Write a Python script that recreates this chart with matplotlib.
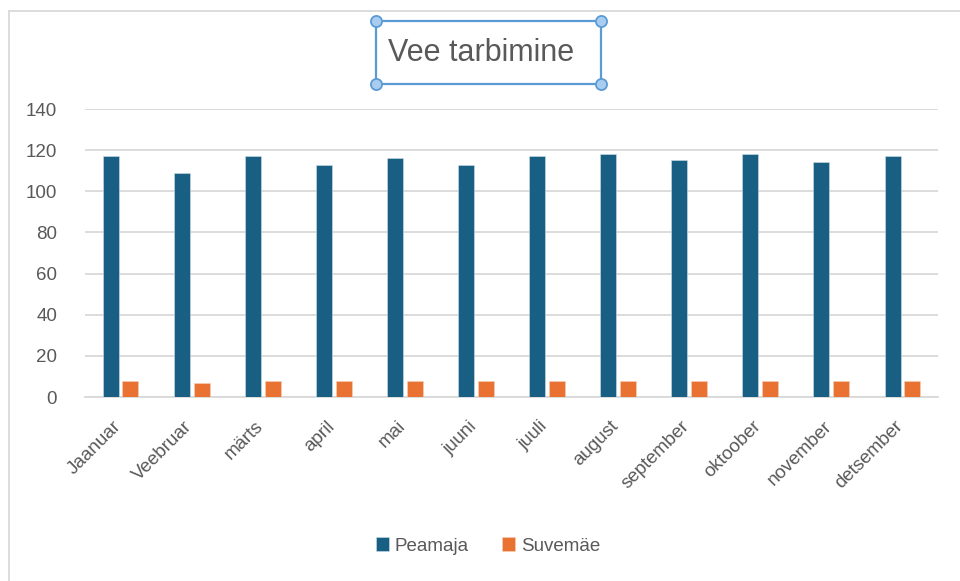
import matplotlib
matplotlib.use("Agg")
import matplotlib.pyplot as plt
import numpy as np
from matplotlib.lines import Line2D
from matplotlib.patches import Rectangle
from matplotlib.transforms import ScaledTranslation

months = ["Jaanuar", "Veebruar", "märts", "april", "mai", "juuni", "juuli",
          "august", "september", "oktoober", "november", "detsember"]
peamaja = [117, 109, 117, 113, 116, 113, 117, 118, 115, 118, 114, 117]
suvemae = [8, 7, 8, 8, 8, 8, 8, 8, 8, 8, 8, 8]
series_names = ["Peamaja", "Suvemäe"]
title = "Vee tarbimine"
yticks = [0, 20, 40, 60, 80, 100, 120, 140]

plt.rcParams['font.family'] = ['Liberation Sans', 'DejaVu Sans']
W, H = 960, 581
fig = plt.figure(figsize=(W / 100, H / 100), dpi=100)
ax = fig.add_axes([85 / W, 1 - 397 / H, (938 - 85) / W, (397 - 109) / H])

txt = '#595959'
grid = '#d9d9d9'
blue = '#195E83'
orange = '#E97132'
fs = 13.5

x = np.arange(len(months))
bw = 0.225
off = 0.14
ax.bar(x - off, peamaja, bw, color=blue, edgecolor='#cfe0ea', linewidth=0.4, label=series_names[0], zorder=3)
ax.bar(x + off, suvemae, bw, color=orange, edgecolor='#f5d0bb', linewidth=0.4, label=series_names[1], zorder=3)

ax.set_xlim(-0.5, len(months) - 0.5)
ax.set_ylim(0, 140)
ax.set_yticks(yticks)
ax.yaxis.grid(True, color=grid, linewidth=1.3, zorder=0)
ax.set_axisbelow(True)
for s in ['top', 'right', 'left']:
    ax.spines[s].set_visible(False)
ax.spines['bottom'].set_color(grid)
ax.spines['bottom'].set_linewidth(1.3)
ax.tick_params(axis='both', length=0, labelsize=fs, labelcolor=txt)
ax.tick_params(axis='y', pad=20)
ax.set_xticks(x)
ax.set_xticklabels(months, rotation=45, ha='right', rotation_mode='anchor')
ax.tick_params(axis='x', pad=15)
for lab in ax.get_xticklabels():
    lab.set_transform(lab.get_transform() + ScaledTranslation(-0.08, 0, fig.dpi_scale_trans))

# title and selection box
fig.text(481 / W, 1 - 53 / H, title, ha='center', va='center', fontsize=22, color=txt)
sel = '#5B9BD5'
x0, x1, y0, y1 = 376, 601, 21, 84
fig.add_artist(Rectangle((x0 / W, 1 - y1 / H), (x1 - x0) / W, (y1 - y0) / H,
                         transform=fig.transFigure, fill=False, edgecolor=sel, linewidth=1.6))
for (px, py) in [(x0, y0), (x1, y0), (x0, y1), (x1, y1)]:
    fig.add_artist(Line2D([px / W], [1 - py / H], transform=fig.transFigure, marker='o',
                          markersize=8, markerfacecolor='#a9cdf0', markeredgecolor=sel, markeredgewidth=1.3))

# chart border (top and left visible)
fig.add_artist(Line2D([9 / W, 1], [1 - 11 / H, 1 - 11 / H], transform=fig.transFigure, color=grid, linewidth=1.3))
fig.add_artist(Line2D([9 / W, 9 / W], [0, 1 - 11 / H], transform=fig.transFigure, color=grid, linewidth=1.3))

fig.legend(loc='center', bbox_to_anchor=(488 / W, 1 - 546 / H), ncol=2, frameon=False,
           fontsize=fs, labelcolor=txt, handlelength=0.7, handleheight=0.7,
           handletextpad=0.3, columnspacing=1.8)

fig.savefig('out.png', dpi=100)
